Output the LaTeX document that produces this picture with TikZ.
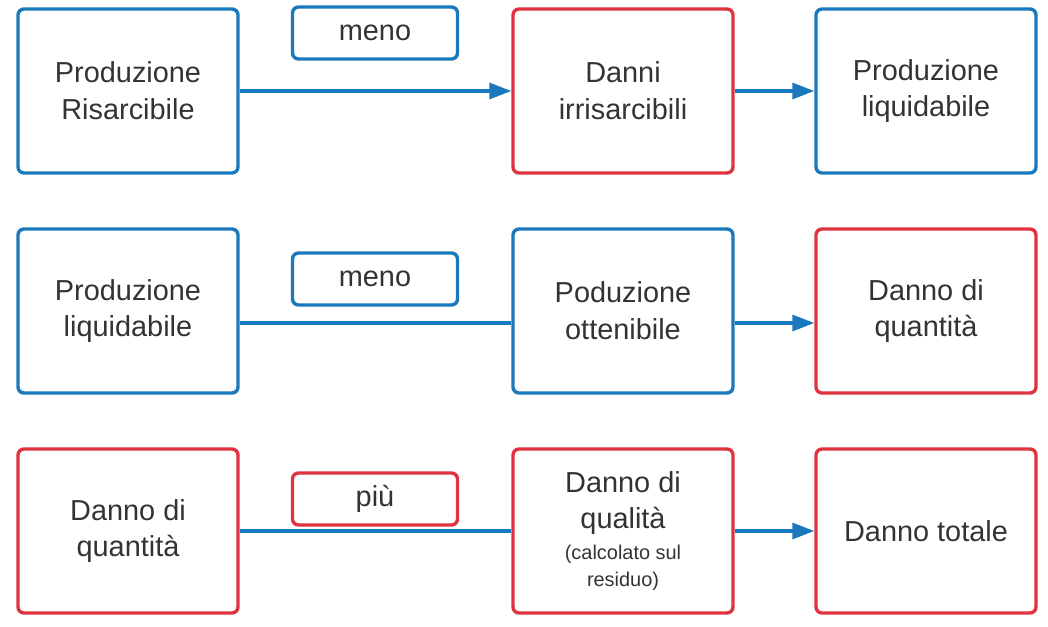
\documentclass[tikz,border=0pt]{standalone}
\usepackage{fontspec}
\setmainfont{Liberation Sans}
\usetikzlibrary{arrows.meta}
\definecolor{bl}{HTML}{1A78BC}
\definecolor{rd}{HTML}{DF3440}
\definecolor{tx}{HTML}{333333}
\begin{document}
\begin{tikzpicture}[x=1bp,y=-1bp,
 box/.style={draw=#1,line width=3.4bp,rounded corners=6bp,minimum width=220bp,minimum height=164bp,align=center,text=tx,font=\fontsize{29}{37}\selectfont,inner sep=0pt},
 lab/.style={draw=#1,line width=3.4bp,rounded corners=6bp,minimum width=165bp,minimum height=52bp,text=tx,font=\fontsize{29}{37}\selectfont,inner sep=0pt},
 con/.style={draw=bl,line width=3.2bp},
 arr/.style={con,-{Triangle[length=22bp,width=16bp]}}]
\useasboundingbox (0,0) rectangle (1048,627);
\node[box=bl] (a1) at (128,91) {Produzione\\Risarcibile};
\node[box=rd] (b1) at (623,91) {Danni\\irrisarcibili};
\node[box=bl] (c1) at (926,91) {Produzione\\liquidabile};
\node[lab=bl] (l1) at (375,33) {meno};
\node[box=bl] (a2) at (128,311) {Produzione\\liquidabile};
\node[box=bl] (b2) at (623,311) {Poduzione\\ottenibile};
\node[box=rd] (c2) at (926,311) {Danno di\\quantità};
\node[lab=bl] (l2) at (375,279) {meno};
\node[box=rd] (a3) at (128,531) {Danno di\\quantità};
\node[box=rd] (b3) at (623,531) {Danno di\\qualità\\[-6bp]{\fontsize{20}{26}\selectfont (calcolato sul}\\[-10bp]{\fontsize{20}{26}\selectfont residuo)}};
\node[box=rd] (c3) at (926,531) {Danno totale};
\node[lab=rd] (l3) at (375,499) {più};
\draw[arr] (a1) -- (b1);
\draw[arr] (b1) -- (c1);
\draw[con] ([yshift=-12bp]a2.east) -- ([yshift=-12bp]b2.west);
\draw[arr] ([yshift=-12bp]b2.east) -- ([yshift=-12bp]c2.west);
\draw[con] (a3) -- (b3);
\draw[arr] (b3) -- (c3);
\end{tikzpicture}
\end{document}
